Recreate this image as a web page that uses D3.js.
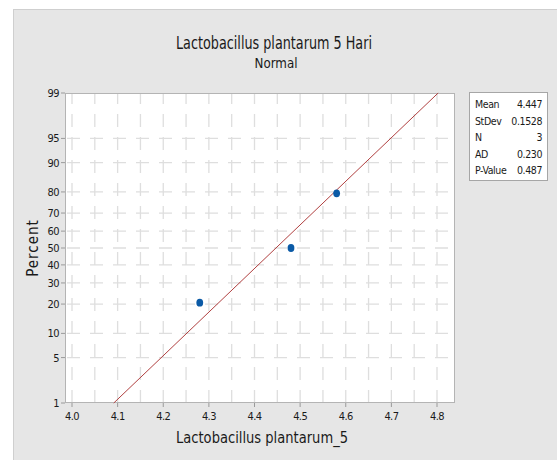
<!DOCTYPE html>
<html lang="en">
<head>
<meta charset="UTF-8">
<title>Probability Plot</title>
<style>
  body { margin: 0; background: #fff; }
  svg text { font-family: "DejaVu Sans Condensed", "DejaVu Sans", sans-serif; font-stretch: condensed; fill: #1a1a1a; }
</style>
</head>
<body>
<svg id="chart"></svg>
<script src="https://cdn.jsdelivr.net/npm/d3@7"></script>
<script>
const values = [4.28, 4.48, 4.58];
const percents = [20.6, 50, 79.4];
const xTicks = [4.0, 4.1, 4.2, 4.3, 4.4, 4.5, 4.6, 4.7, 4.8];
const xGrid = d3.range(0, 17).map(i => 4.0 + i * 0.05);
const yTicks = [1, 5, 10, 20, 30, 40, 50, 60, 70, 80, 90, 95, 99];
const statLabels = ['Mean', 'StDev', 'N', 'AD', 'P-Value'];
const statValues = ['4.447', '0.1528', '3', '0.230', '0.487'];
const mean = 4.447, sd = 0.1528;

// inverse normal cdf (Acklam)
function probit(p) {
  const a = [-39.69683028665376, 220.9460984245205, -275.9285104469687, 138.3577518672690, -30.66479806614716, 2.506628277459239];
  const b = [-54.47609879822406, 161.5858368580409, -155.6989798598866, 66.80131188771972, -13.28068155288572];
  const c = [-0.007784894002430293, -0.3223964580411365, -2.400758277161838, -2.549732539343734, 4.374664141464968, 2.938163982698783];
  const d = [0.007784695709041462, 0.3224671290700398, 2.445134137142996, 3.754408661907416];
  const pl = 0.02425;
  let q, r;
  if (p < pl) {
    q = Math.sqrt(-2 * Math.log(p));
    return (((((c[0]*q+c[1])*q+c[2])*q+c[3])*q+c[4])*q+c[5]) / ((((d[0]*q+d[1])*q+d[2])*q+d[3])*q+1);
  } else if (p <= 1 - pl) {
    q = p - 0.5; r = q * q;
    return (((((a[0]*r+a[1])*r+a[2])*r+a[3])*r+a[4])*r+a[5])*q / (((((b[0]*r+b[1])*r+b[2])*r+b[3])*r+b[4])*r+1);
  }
  q = Math.sqrt(-2 * Math.log(1 - p));
  return -(((((c[0]*q+c[1])*q+c[2])*q+c[3])*q+c[4])*q+c[5]) / ((((d[0]*q+d[1])*q+d[2])*q+d[3])*q+1);
}

const W = 557, H = 460;
const plot = { left: 65, top: 93, right: 455, bottom: 403 };

const svg = d3.select('#chart').attr('width', W).attr('height', H);

// gray panel
svg.append('rect').attr('x', 13.5).attr('y', 9.5).attr('width', W).attr('height', H)
  .attr('fill', '#e6e6e6').attr('stroke', '#cfcfcf');

const x = d3.scaleLinear().domain([4.0, 4.8]).range([72, 437]);
const z = d3.scaleLinear().domain([probit(0.01), probit(0.99)]).range([plot.bottom, plot.top]);
const y = p => z(probit(p / 100));

svg.append('rect')
  .attr('x', plot.left).attr('y', plot.top)
  .attr('width', plot.right - plot.left).attr('height', plot.bottom - plot.top)
  .attr('fill', '#fff');

// grid (dashes run up from the bottom and right from the left)
const grid = svg.append('g').attr('stroke', '#dedede').attr('stroke-width', 1.3);
grid.selectAll('.vg').data(xGrid).enter().append('line')
  .attr('x1', d => x(d)).attr('x2', d => x(d))
  .attr('y1', plot.bottom).attr('y2', plot.top)
  .attr('stroke-dasharray', '13,10');
grid.selectAll('.hg').data(yTicks.filter(d => d > 1 && d < 99)).enter().append('line')
  .attr('x1', plot.left).attr('x2', plot.right)
  .attr('y1', d => y(d)).attr('y2', d => y(d))
  .attr('stroke-dasharray', '13,10')
  .attr('stroke-dashoffset', 21);

// frame
svg.append('rect')
  .attr('x', plot.left + 0.5).attr('y', plot.top + 0.5)
  .attr('width', plot.right - plot.left - 1).attr('height', plot.bottom - plot.top - 1)
  .attr('fill', 'none').attr('stroke', '#b4b4b4');

// axes ticks + labels
const yt = svg.append('g');
yt.selectAll('line').data(yTicks).enter().append('line')
  .attr('x1', plot.left - 4).attr('x2', plot.left)
  .attr('y1', d => y(d)).attr('y2', d => y(d))
  .attr('stroke', '#9a9a9a');
yt.selectAll('text').data(yTicks).enter().append('text')
  .attr('x', plot.left - 6).attr('y', d => y(d) + 4)
  .attr('text-anchor', 'end').attr('font-size', 11)
  .attr('letter-spacing', -0.6)
  .text(d => d);

const xt = svg.append('g');
xt.selectAll('line').data(xTicks).enter().append('line')
  .attr('x1', d => x(d)).attr('x2', d => x(d))
  .attr('y1', plot.bottom).attr('y2', plot.bottom + 4)
  .attr('stroke', '#9a9a9a');
xt.selectAll('text').data(xTicks).enter().append('text')
  .attr('x', d => x(d)).attr('y', plot.bottom + 17)
  .attr('text-anchor', 'middle').attr('font-size', 11)
  .attr('letter-spacing', -0.6)
  .text(d => d3.format('.1f')(d));

// fitted line
const zLo = probit(0.01), zHi = probit(0.99);
svg.append('line')
  .attr('x1', x(mean + zLo * sd)).attr('y1', z(zLo))
  .attr('x2', x(mean + zHi * sd)).attr('y2', z(zHi))
  .attr('stroke', '#b04040').attr('stroke-width', 1);

// points
svg.selectAll('.pt').data(values).enter().append('ellipse')
  .attr('cx', d => x(d)).attr('cy', (d, i) => y(percents[i]))
  .attr('rx', 3.4).attr('ry', 3.9).attr('fill', '#0b5aa6');

// titles
svg.append('text').attr('x', 274).attr('y', 49).attr('text-anchor', 'middle')
  .attr('font-size', 18).attr('textLength', 196).attr('lengthAdjust', 'spacingAndGlyphs')
  .text('Lactobacillus plantarum 5 Hari');
svg.append('text').attr('x', 276).attr('y', 68).attr('text-anchor', 'middle')
  .attr('font-size', 14).attr('textLength', 43).attr('lengthAdjust', 'spacingAndGlyphs')
  .text('Normal');
svg.append('text').attr('x', 262).attr('y', 443).attr('text-anchor', 'middle')
  .attr('font-size', 15).attr('textLength', 172).attr('lengthAdjust', 'spacingAndGlyphs')
  .text('Lactobacillus plantarum_5');
svg.append('text')
  .attr('transform', `translate(38,${y(50)}) rotate(-90)`)
  .attr('text-anchor', 'middle').attr('font-size', 15).attr('letter-spacing', 1)
  .text('Percent');

// stats box
const box = svg.append('g');
box.append('rect').attr('x', 469.5).attr('y', 92.5).attr('width', 78).attr('height', 88)
  .attr('fill', '#fff').attr('stroke', '#a6a6a6');
box.selectAll('.sl').data(statLabels).enter().append('text')
  .attr('x', 475).attr('y', (d, i) => 108 + i * 16.6)
  .attr('font-size', 10.5).attr('letter-spacing', -0.4).text(d => d);
box.selectAll('.sv').data(statValues).enter().append('text')
  .attr('x', 542).attr('y', (d, i) => 108 + i * 16.6)
  .attr('text-anchor', 'end').attr('font-size', 10.5).attr('letter-spacing', -0.4).text(d => d);
</script>
</body>
</html>
